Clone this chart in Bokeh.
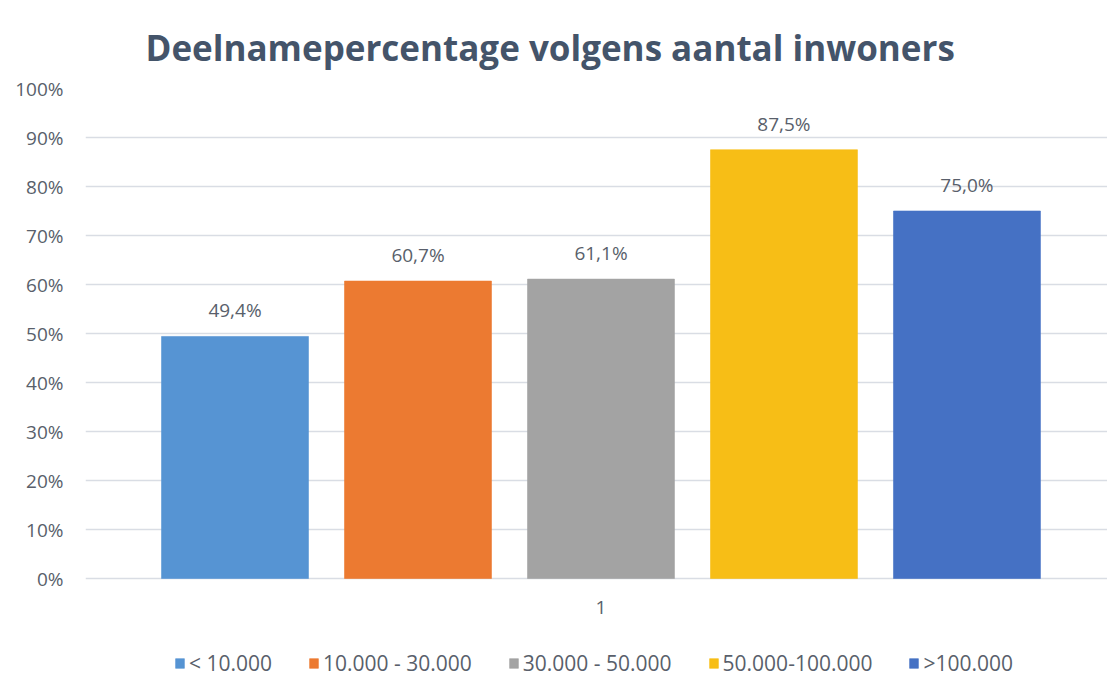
from bokeh.plotting import figure
from bokeh.models import (ColumnDataSource, Legend, LegendItem, FixedTicker,
                          PrintfTickFormatter, LabelSet, Range1d, LinearAxis)
from bokeh.core.properties import value
from bokeh.embed import file_html
from bokeh.resources import INLINE

title_text = "Deelnamepercentage volgens aantal inwoners"
categories = ["< 10.000", "10.000 - 30.000", "30.000 - 50.000", "50.000-100.000", ">100.000"]
values = [49.4, 60.7, 61.1, 87.5, 75.0]
colors = ["#5694d3", "#ec7a31", "#a3a3a3", "#f7be16", "#4571c4"]
y_ticks = [0, 10, 20, 30, 40, 50, 60, 70, 80, 90, 100]
group_label = "1"

xs = list(range(len(categories)))
labels = [f"{v:.1f}".replace(".", ",") + "%" for v in values]
src = ColumnDataSource(dict(x=xs, top=values, color=colors, cat=categories, label=labels))

FONT = "Open Sans"
TXT = "#595f6b"

p = figure(width=1107, height=677, output_backend="svg", toolbar_location=None,
           x_range=Range1d(-0.817, 4.768), y_range=Range1d(-20.2, 100),
           x_axis_location=None,
           min_border_left=85, min_border_right=0, min_border_top=88, min_border_bottom=0,
           title=title_text)
p.title.text_font = FONT
p.title.text_font_size = "35px"
p.title.text_font_style = "bold"
p.title.text_color = "#44546a"
p.title.align = "left"
p.title.offset = 60
p.title.standoff = 35
p.outline_line_color = None

r = p.vbar(x="x", top="top", width=0.803, bottom=0, source=src,
           fill_color="color", line_color="color", line_alpha=0.6)

p.add_layout(LabelSet(x="x", y="top", text="label", source=src, text_align="center",
                      text_baseline="middle", y_offset=26, text_font_size="19px",
                      text_color=TXT, text_font=value(FONT)))

p.yaxis.ticker = FixedTicker(ticks=y_ticks)
p.yaxis.formatter = PrintfTickFormatter(format="%d%%")
p.yaxis.axis_line_color = None
p.yaxis.major_tick_line_color = None
p.yaxis.minor_tick_line_color = None
p.yaxis.major_label_standoff = 16
p.yaxis.major_label_text_font = FONT
p.yaxis.major_label_text_font_size = "19px"
p.yaxis.major_label_text_color = TXT

center = (len(categories) - 1) / 2
xaxis = LinearAxis(fixed_location=0, ticker=FixedTicker(ticks=[center]),
                   major_label_overrides={center: group_label},
                   axis_line_color=None, major_tick_line_color=None,
                   minor_tick_line_color=None, major_label_standoff=16,
                   major_label_text_font=FONT, major_label_text_font_size="19px",
                   major_label_text_color=TXT)
p.add_layout(xaxis, "below")

p.xgrid.grid_line_color = None
p.ygrid.grid_line_color = "#d9dde4"
p.ygrid.grid_line_width = 1.5

items = [LegendItem(label=c, renderers=[r], index=i) for i, c in enumerate(categories)]
legend = Legend(items=items, orientation="horizontal", location=(89, 0),
                label_text_font=FONT, label_text_font_size="21px", label_text_color=TXT,
                glyph_width=11, glyph_height=12, spacing=36, label_standoff=4,
                padding=0, margin=0, border_line_color=None, background_fill_alpha=0)
p.add_layout(legend)

open("out.html", "w").write(file_html(p, INLINE))
